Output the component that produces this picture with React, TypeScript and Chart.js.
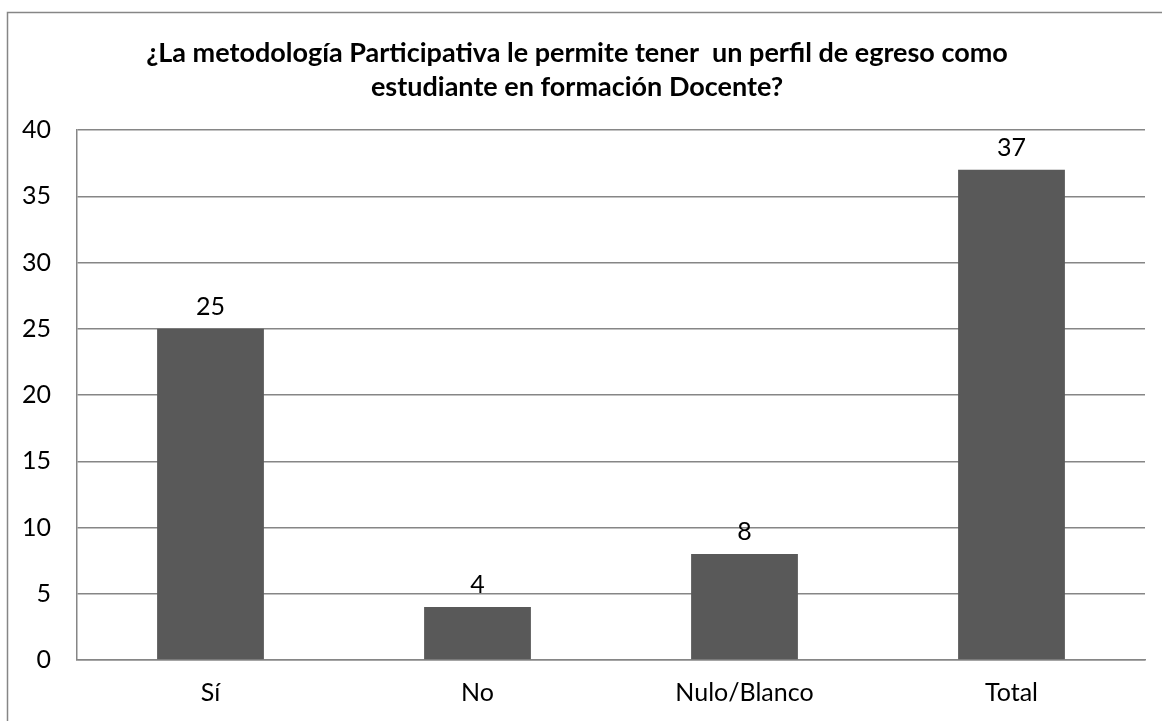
import React, { useEffect, useRef } from "react";
import { Chart, registerables } from "chart.js";

Chart.register(...registerables);

const categories = ["Sí", "No", "Nulo/Blanco", "Total"];
const values = [25, 4, 8, 37];
const titleLines = [
  "¿La metodología Participativa le permite tener  un perfil de egreso como",
  "estudiante en formación Docente?",
];
const yMin = 0;
const yMax = 40;
const yStep = 5;

const FONT = "Lato, 'Open Sans', sans-serif";

const framePlugin = {
  id: "frame",
  beforeDraw(chart: any) {
    const ctx = chart.ctx;
    ctx.save();
    ctx.fillStyle = "#ffffff";
    ctx.fillRect(0, 0, chart.width, chart.height);
    ctx.strokeStyle = "#868686";
    ctx.lineWidth = 1.5;
    ctx.strokeRect(7.5, 12.5, chart.width + 20, chart.height + 20);
    ctx.fillStyle = "#000000";
    ctx.font = `bold 27px ${FONT}`;
    ctx.textAlign = "center";
    ctx.textBaseline = "middle";
    titleLines.forEach((t, i) => ctx.fillText(t, 577, 53 + i * 34));
    ctx.restore();
  },
};

const labelPlugin = {
  id: "valueLabels",
  afterDatasetsDraw(chart: any) {
    const ctx = chart.ctx;
    const meta = chart.getDatasetMeta(0);
    ctx.save();
    ctx.fillStyle = "#000000";
    ctx.font = `25px ${FONT}`;
    ctx.textAlign = "center";
    ctx.textBaseline = "middle";
    meta.data.forEach((bar: any, i: number) => {
      ctx.fillText(String(chart.data.datasets[0].data[i]), bar.x, bar.y - 22);
    });
    ctx.restore();
  },
};

export default function App() {
  const ref = useRef<HTMLCanvasElement>(null);
  useEffect(() => {
    document.body.style.margin = "0";
    const chart = new Chart(ref.current!, {
      type: "bar",
      data: {
        labels: categories,
        datasets: [
          {
            data: values,
            backgroundColor: "#595959",
            borderWidth: 0,
            barPercentage: 0.4,
            categoryPercentage: 1,
          },
        ],
      },
      options: {
        animation: false,
        responsive: false,
        layout: { padding: { top: 130, right: 17, left: 0, bottom: 0 } },
        plugins: {
          legend: { display: false },
          title: { display: false },
          tooltip: { enabled: false },
        },
        scales: {
          x: {
            grid: { display: false, drawTicks: false },
            border: { display: true, color: "#868686", width: 1.5 },
            ticks: {
              color: "#000000",
              font: { family: FONT, size: 25 },
              padding: 18,
              maxRotation: 0,
            },
            afterFit(scale: any) {
              scale.height = 61;
            },
          },
          y: {
            min: yMin,
            max: yMax,
            grid: { color: "#868686", lineWidth: 1.5, drawTicks: false },
            border: { display: true, color: "#868686", width: 1.5 },
            ticks: {
              stepSize: yStep,
              color: "#000000",
              font: { family: FONT, size: 25 },
              padding: 26,
            },
            afterFit(scale: any) {
              scale.width = 77;
            },
          },
        },
      },
      plugins: [framePlugin, labelPlugin],
    });
    return () => chart.destroy();
  }, []);
  return <canvas ref={ref} width={1162} height={721} style={{ display: "block" }} />;
}
